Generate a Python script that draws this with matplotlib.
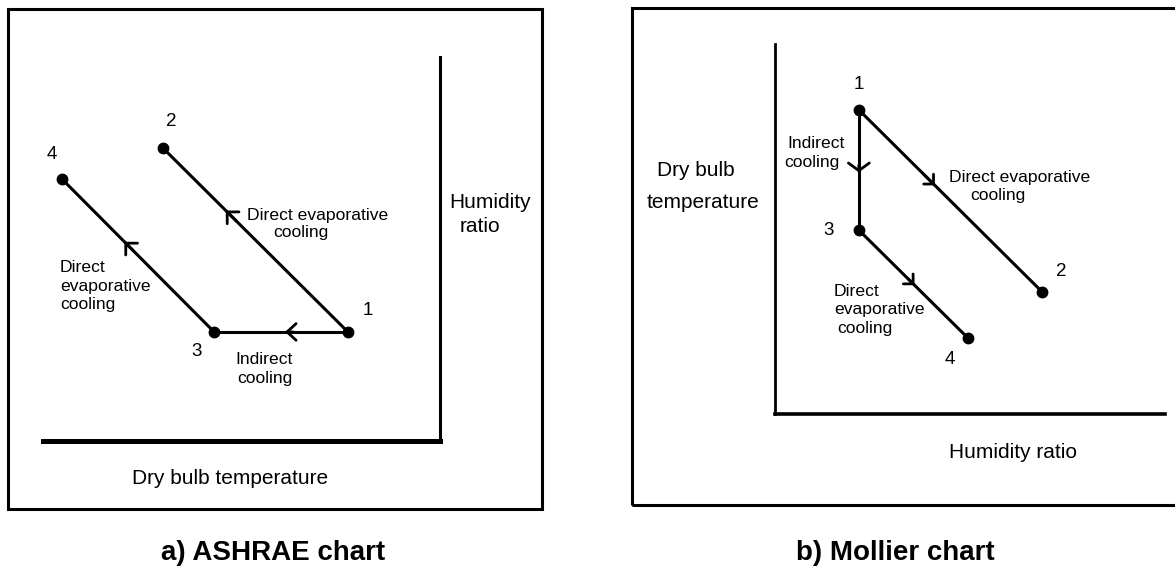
import matplotlib
matplotlib.use('Agg')
import matplotlib.pyplot as plt
from matplotlib.patches import Rectangle

plt.rcParams['font.family'] = ['Liberation Sans', 'DejaVu Sans']

# ---------------- data (arbitrary 0-100 chart units) ----------------
# a) ASHRAE chart: x = dry bulb temperature, y = humidity ratio
ashrae_labels = ['1', '2', '3', '4']
ashrae_tdb = [76.8, 30.2, 43.1, 4.8]
ashrae_w = [28.4, 76.3, 28.4, 68.2]

# b) Mollier chart: x = humidity ratio, y = dry bulb temperature
mollier_labels = ['1', '2', '3', '4']
mollier_w = [21.5, 68.5, 21.5, 49.5]
mollier_tdb = [82.2, 33.0, 49.7, 20.5]

# processes between state points
processes = [('1', '2'), ('1', '3'), ('3', '4')]

# ---------------- layout helpers ----------------
W, H = 1175, 573
fig = plt.figure(figsize=(W / 100, H / 100), dpi=100)
fig.patch.set_facecolor('white')


def fx(px):
    return px / W


def fy(py):
    return 1 - py / H


def label(s, x, y, size, ha='center', weight='normal'):
    base = y + 0.36 * size / 0.72
    fig.text(fx(x), fy(base), s, ha=ha, va='baseline', fontsize=size,
             fontweight=weight, color='black')


def box(x0, y0, x1, y1):
    fig.add_artist(Rectangle((fx(x0), fy(y1)), fx(x1) - fx(x0), fy(y0) - fy(y1),
                             transform=fig.transFigure, fill=False,
                             lw=2.2, ec='black', zorder=3))


def draw_chart(ax, labels, xs, ys, arrow_frac, num_offsets, arrow_sizes):
    idx = {l: i for i, l in enumerate(labels)}
    ax.set_xlim(0, 100)
    ax.set_ylim(0, 100)
    ax.set_xticks([])
    ax.set_yticks([])
    ax.set_facecolor('none')
    for a, b in processes:
        i, j = idx[a], idx[b]
        ax.plot([xs[i], xs[j]], [ys[i], ys[j]], color='black', lw=2.2,
                solid_capstyle='round', clip_on=False)
        f = arrow_frac[(a, b)]
        tx = xs[i] + f * (xs[j] - xs[i])
        ty = ys[i] + f * (ys[j] - ys[i])
        bx = tx - 0.06 * (xs[j] - xs[i])
        by = ty - 0.06 * (ys[j] - ys[i])
        hl, hw = arrow_sizes[(a, b)]
        ax.annotate('', xy=(tx, ty), xytext=(bx, by),
                    arrowprops=dict(arrowstyle=f'->,head_length={hl},head_width={hw}',
                                    lw=2.0, color='black', shrinkA=0, shrinkB=0,
                                    mutation_scale=10),
                    annotation_clip=False)
    ax.plot(xs, ys, 'o', ms=7.5, color='black', clip_on=False, zorder=5)
    for l, x, y in zip(labels, xs, ys):
        dx, dy = num_offsets[l]
        ax.annotate(l, (x, y), xytext=(dx, dy), textcoords='offset pixels',
                    ha='center', va='center', fontsize=13.5)


# ---------------- a) ASHRAE chart ----------------
box(8, 9, 542, 509)
ax1 = fig.add_axes([fx(43), fy(441), fx(440) - fx(43), fy(57) - fy(441)])
for s in ['top', 'left']:
    ax1.spines[s].set_visible(False)
ax1.spines['bottom'].set_linewidth(3.6)
ax1.spines['right'].set_linewidth(2.2)
draw_chart(ax1, ashrae_labels, ashrae_tdb, ashrae_w,
           {('1', '2'): 0.66, ('1', '3'): 0.47, ('3', '4'): 0.59},
           {'1': (20, 21), '2': (8, 27), '3': (-18, -20), '4': (-10, 25)},
           {('1', '2'): (0.6, 0.6), ('1', '3'): (0.65, 0.6), ('3', '4'): (0.6, 0.6)})

label('Humidity', 490, 201, 15)
label('ratio', 480, 225, 15)
label('Dry bulb temperature', 230, 476, 15)
label('Direct evaporative', 318, 214, 12.6)
label('cooling', 301, 231, 12.6)
label('Direct', 60, 266, 12.6, ha='left')
label('evaporative', 60, 285, 12.6, ha='left')
label('cooling', 60, 303, 12.6, ha='left')
label('Indirect', 264, 358, 12.6)
label('cooling', 265, 377, 12.6)
label('a) ASHRAE chart', 273, 550, 20, weight='bold')

# ---------------- b) Mollier chart ----------------
box(632, 8, 1190, 505)
ax2 = fig.add_axes([fx(775), fy(414), fx(1165) - fx(775), fy(44) - fy(414)])
for s in ['top', 'right']:
    ax2.spines[s].set_visible(False)
ax2.spines['bottom'].set_linewidth(2.6)
ax2.spines['left'].set_linewidth(2.0)
draw_chart(ax2, mollier_labels, mollier_w, mollier_tdb,
           {('1', '2'): 0.415, ('1', '3'): 0.52, ('3', '4'): 0.51},
           {'1': (0, 25), '2': (19, 20), '3': (-30, 0), '4': (-18, -21)},
           {('1', '2'): (0.5, 0.5), ('1', '3'): (0.55, 0.75), ('3', '4'): (0.5, 0.5)})

label('Dry bulb', 696, 168, 15)
label('temperature', 703, 200, 15)
label('Indirect', 816, 142, 12.6)
label('cooling', 812, 161, 12.6)
label('Direct evaporative', 1020, 176, 12.6)
label('cooling', 998, 194, 12.6)
label('Direct', 834, 290, 12.6, ha='left')
label('evaporative', 834, 308, 12.6, ha='left')
label('cooling', 837, 327, 12.6, ha='left')
label('Humidity ratio', 1013, 451, 15)
label('b) Mollier chart', 895, 550, 20, weight='bold')

fig.savefig('out.png', dpi=100, facecolor='white')
